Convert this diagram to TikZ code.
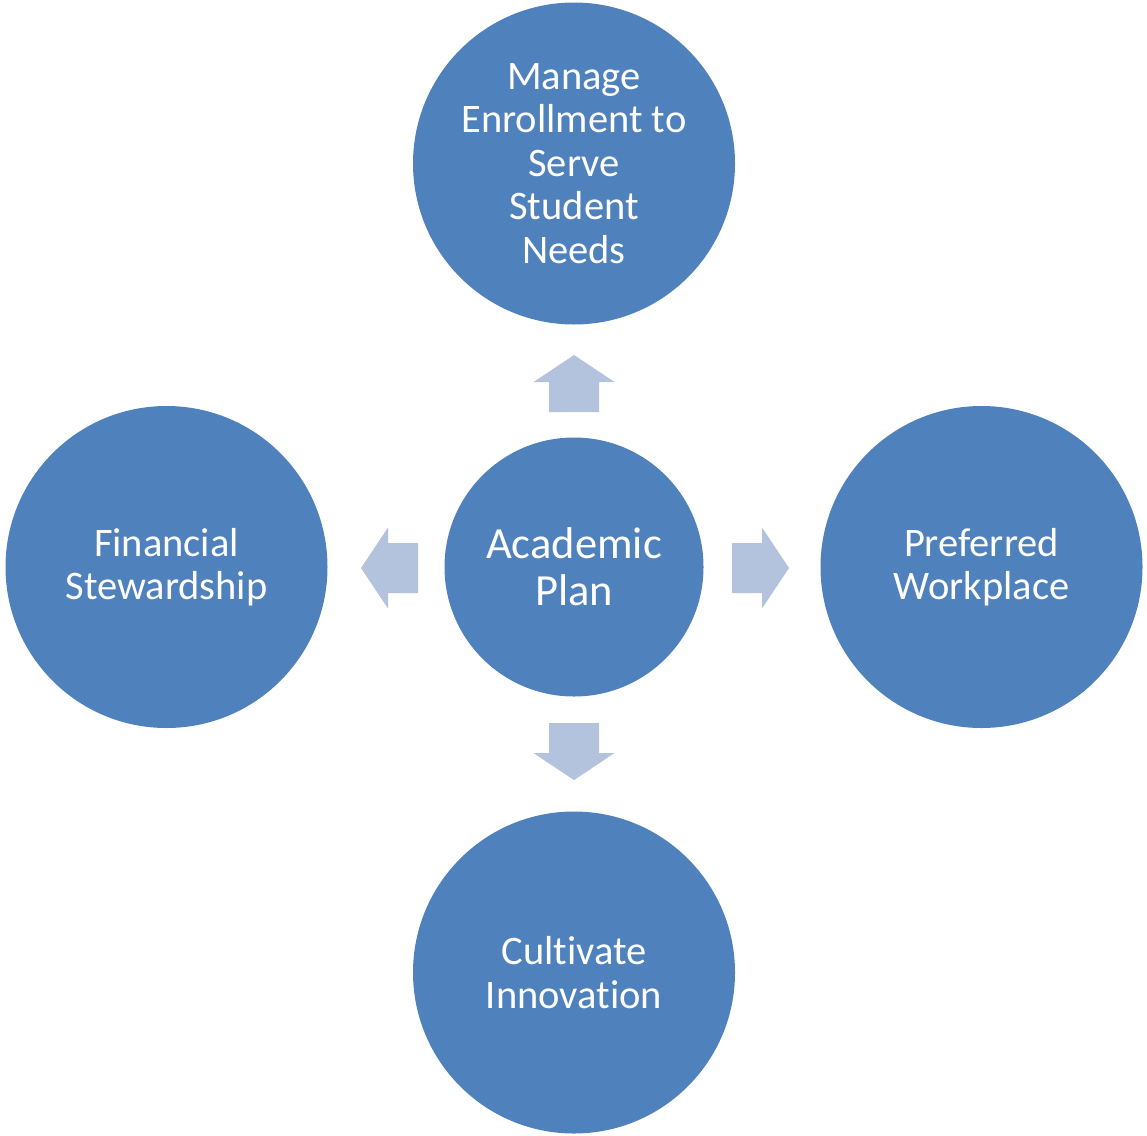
\documentclass[tikz,border=0pt]{standalone}
\usepackage{fontspec}
\setmainfont{Carlito}[Ligatures=NoCommon]
\definecolor{circblue}{HTML}{4F81BD}
\definecolor{arrowblue}{HTML}{B3C2DD}
\begin{document}
\begin{tikzpicture}[x=1pt,y=1pt,
  bigcirc/.style={circle, fill=circblue, inner sep=0pt, outer sep=0pt, minimum size=322pt,
    text=white, align=center, font=\fontsize{40.5}{43.5}\selectfont},
  centercirc/.style={bigcirc, minimum size=259pt, font=\fontsize{44.5}{47}\selectfont},
  blockarrow/.pic={\fill[arrowblue] (0,-25) -- (30,-25) -- (30,-40.5) -- (57,0) -- (30,40.5) -- (30,25) -- (0,25) -- cycle;}]
\useasboundingbox (0,0) rectangle (1147,-1135);
\node[bigcirc] (top) at (574,-163.5) {Manage\\Enrollment to\\Serve\\Student\\Needs};
\node[bigcirc] (left) at (166.5,-567) {Financial\\Stewardship};
\node[bigcirc] (right) at (981.5,-567) {Preferred\\Workplace};
\node[bigcirc] (bottom) at (574,-972.5) {Cultivate\\Innovation};
\node[centercirc] (center) at (574,-567) {Academic\\Plan};
\coordinate (aup) at (574,-412);
\coordinate (aleft) at (418,-568);
\coordinate (aright) at (732,-568);
\coordinate (adown) at (574,-723);
\pic[rotate=90] at (aup) {blockarrow};
\pic[rotate=180] at (aleft) {blockarrow};
\pic at (aright) {blockarrow};
\pic[rotate=-90] at (adown) {blockarrow};
\end{tikzpicture}
\end{document}
